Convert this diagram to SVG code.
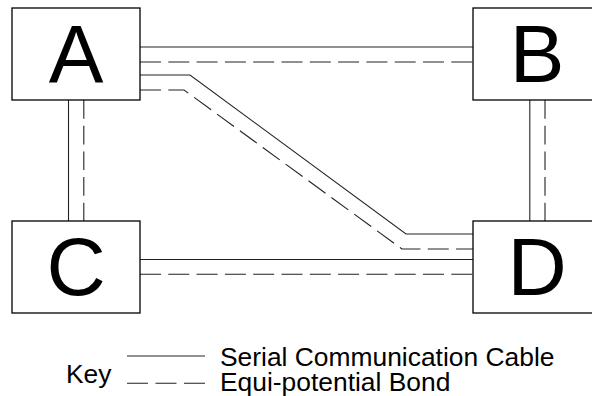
<svg xmlns="http://www.w3.org/2000/svg" width="592" height="396" viewBox="0 0 592 396">
<style>
.box{fill:#fff;stroke:#000;stroke-width:1.3}
.lbl{font-family:"Liberation Sans",Arial,sans-serif;font-size:82px;fill:#000;text-anchor:middle}
.txt{font-family:"Liberation Sans",Arial,sans-serif;font-size:26.4px;fill:#000}
.s{fill:none;stroke:#222;stroke-width:1.1}
.d{fill:none;stroke:#222;stroke-width:1.1;stroke-dasharray:21 7.3}
.dv{fill:none;stroke:#222;stroke-width:1.1;stroke-dasharray:18.7 7}
</style>
<rect width="592" height="396" fill="#fff"/>
<g id="connectors">
<line class="s" x1="140" y1="47" x2="473" y2="47"/>
<line class="d" x1="140" y1="62" x2="473" y2="62"/>
<polyline class="s" points="140,75 190,75 406,234 473,234"/>
<polyline class="d" points="140,90 184,90 402,249 473,249"/>
<line class="s" x1="140" y1="259.5" x2="473" y2="259.5"/>
<line class="d" x1="140" y1="274.3" x2="473" y2="274.3"/>
<line class="s" x1="68.5" y1="100" x2="68.5" y2="221"/>
<line class="dv" x1="83.8" y1="100" x2="83.8" y2="221"/>
<line class="s" x1="529.8" y1="100" x2="529.8" y2="221"/>
<line class="dv" x1="545" y1="100" x2="545" y2="221"/>
</g>
<g id="node-A">
<rect class="box" x="12" y="8" width="128" height="92"/>
<text class="lbl" x="76" y="82">A</text>
</g>
<g id="node-B">
<rect class="box" x="473" y="8" width="128" height="92"/>
<text class="lbl" x="537" y="82">B</text>
</g>
<g id="node-C">
<rect class="box" x="12" y="221" width="128" height="92"/>
<text class="lbl" x="76" y="295">C</text>
</g>
<g id="node-D">
<rect class="box" x="473" y="221" width="128" height="92"/>
<text class="lbl" x="537" y="295">D</text>
</g>
<g id="key">
<text class="txt" x="66" y="382.7">Key</text>
<line class="s" x1="127" y1="356" x2="205" y2="356"/>
<line class="d" x1="127" y1="383.3" x2="205" y2="383.3" style="stroke-dasharray:21 7.5"/>
<text class="txt" x="220" y="365.5">Serial Communication Cable</text>
<text class="txt" x="220" y="390.5">Equi-potential Bond</text>
</g>
</svg>
